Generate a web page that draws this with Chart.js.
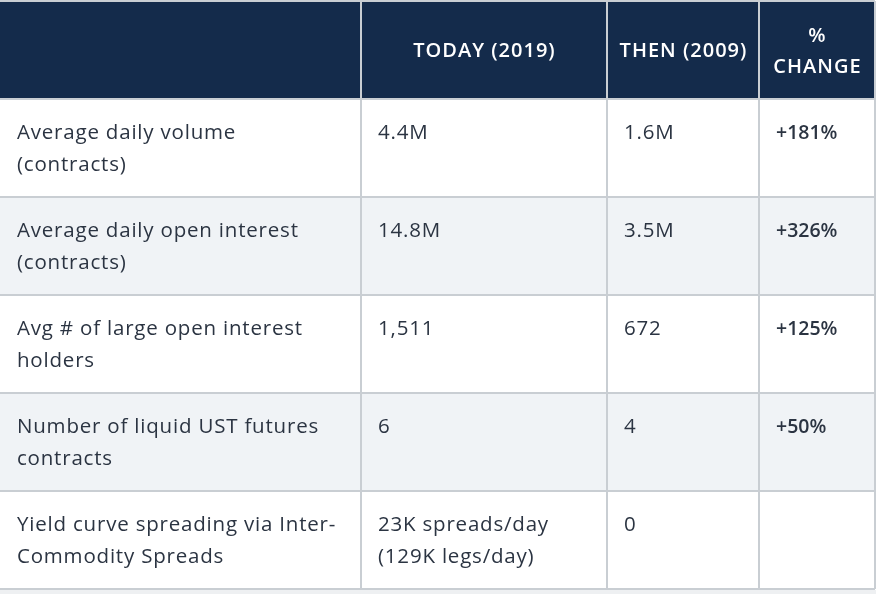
<!DOCTYPE html>
<html>
<head>
<meta charset="utf-8">
<script src="https://cdn.jsdelivr.net/npm/chart.js@4.4.1/dist/chart.umd.min.js"></script>
<style>
  html, body { margin: 0; padding: 0; background: #eef0f2; }
  #wrap { width: 876px; height: 590px; background: #ffffff; }
</style>
</head>
<body>
<div id="wrap"><canvas id="tabela" width="876" height="590"></canvas></div>
<script>
// dados da tabela
const cabecalho = ['', 'TODAY (2019)', 'THEN (2009)', '%\nCHANGE'];
const metricas = [
    'Average daily volume\n(contracts)',
    'Average daily open interest\n(contracts)',
    'Avg # of large open interest\nholders',
    'Number of liquid UST futures\ncontracts',
    'Yield curve spreading via Inter-\nCommodity Spreads'
];
const hoje = ['4.4M', '14.8M', '1,511', '6', '23K spreads/day\n(129K legs/day)'];
const antes = ['1.6M', '3.5M', '672', '4', '0'];
const variacao = ['+181%', '+326%', '+125%', '+50%', ''];

// layout
const limitesColunas = [0, 361, 607, 759, 875];
const corCabecalho = '#142b4b';
const corLinhaClara = '#f0f3f6';
const corGrelha = '#c9ced3';
const corTexto = '#2b3442';
const fonte = '"Open Sans", Lato, sans-serif';

const linhas = ['header'].concat(metricas);
const colunasTexto = [metricas, hoje, antes, variacao];

function corFundo(ctx) {
    if (ctx.dataIndex === 0) return corCabecalho;
    return ctx.dataIndex % 2 === 0 ? corLinhaClara : '#ffffff';
}

const datasets = cabecalho.map(function(h, c) {
    return {
        label: h,
        data: linhas.map(() => [limitesColunas[c], limitesColunas[c + 1]]),
        backgroundColor: corFundo,
        borderWidth: 0,
        barPercentage: 1,
        categoryPercentage: 1,
        grouped: false
    };
});

const textoCelulas = {
    id: 'textoCelulas',
    afterDraw(chart) {
        const ctx = chart.ctx;
        const x = chart.scales.x;
        const y = chart.scales.y;
        const alturaLinha = y.height / linhas.length;
        ctx.save();
        ctx.textBaseline = 'alphabetic';
        for (let c = 0; c < cabecalho.length; c++) {
            const esq = x.getPixelForValue(limitesColunas[c]);
            const dir = x.getPixelForValue(limitesColunas[c + 1]);
            // cabecalho
            const topoH = y.getPixelForValue(0) - alturaLinha / 2;
            const partes = cabecalho[c].split('\n');
            ctx.fillStyle = '#ffffff';
            ctx.font = '600 20px ' + fonte;
            ctx.letterSpacing = '1px';
            ctx.textAlign = 'center';
            const meio = topoH + alturaLinha / 2;
            partes.forEach(function(p, i) {
                const yy = meio + (i - (partes.length - 1) / 2) * 31 + 7;
                ctx.fillText(p, (esq + dir) / 2 + 0.5, yy);
            });
            // corpo
            ctx.textAlign = 'left';
            ctx.fillStyle = corTexto;
            ctx.font = c === 3 ? '600 19.5px ' + fonte : '20.5px ' + fonte;
            ctx.letterSpacing = c === 3 ? '0px' : '0.8px';
            colunasTexto[c].forEach(function(txt, r) {
                const topo = y.getPixelForValue(r + 1) - alturaLinha / 2;
                txt.split('\n').forEach(function(l, i) {
                    ctx.fillText(l, esq + 17, topo + 40 + i * 32);
                });
            });
        }
        ctx.restore();
    }
};

new Chart(document.getElementById('tabela'), {
    type: 'bar',
    data: { labels: linhas, datasets: datasets },
    options: {
        indexAxis: 'y',
        responsive: false,
        animation: false,
        events: [],
        layout: { padding: { top: 1, bottom: 1, left: 0, right: 1 } },
        plugins: { legend: { display: false }, tooltip: { enabled: false } },
        scales: {
            x: {
                type: 'linear',
                min: limitesColunas[0],
                max: limitesColunas[limitesColunas.length - 1],
                afterBuildTicks: function(scale) {
                    scale.ticks = limitesColunas.slice(1).map(v => ({ value: v }));
                },
                ticks: { display: false },
                border: { display: false },
                grid: { color: corGrelha, lineWidth: 2, drawTicks: false, z: 1 }
            },
            y: {
                type: 'category',
                offset: true,
                ticks: { display: false },
                border: { display: false },
                grid: { color: corGrelha, lineWidth: 2, drawTicks: false, offset: true, z: 1 }
            }
        }
    },
    plugins: [textoCelulas]
});
</script>
</body>
</html>
